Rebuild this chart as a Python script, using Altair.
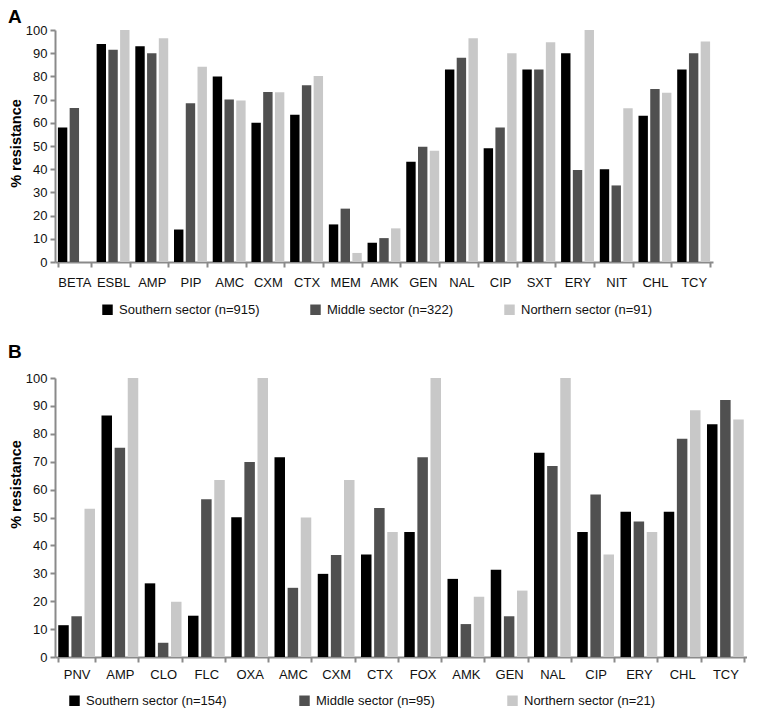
import altair as alt
import pandas as pd

FONT = "Liberation Sans"

# ---- Panel A data ----
cats_a = ["BETA", "ESBL", "AMP", "PIP", "AMC", "CXM", "CTX", "MEM", "AMK",
          "GEN", "NAL", "CIP", "SXT", "ERY", "NIT", "CHL", "TCY"]
south_a = [58, 94, 93, 14, 80, 60, 63.5, 16.2, 8.3, 43.2, 83, 49, 83, 90, 40, 63, 83]
middle_a = [66.4, 91.5, 90, 68.4, 70, 73.3, 76.2, 23, 10.3, 49.7, 88, 58, 83, 39.7, 33, 74.6, 90]
north_a = [None, 100, 96.4, 84.2, 69.6, 73.2, 80.2, 3.9, 14.5, 48, 96.4, 90, 94.7, 100, 66.3, 73, 95]
names_a = ["Southern sector (n=915)", "Middle sector (n=322)", "Northern sector (n=91)"]

# ---- Panel B data ----
cats_b = ["PNV", "AMP", "CLO", "FLC", "OXA", "AMC", "CXM", "CTX", "FOX", "AMK",
          "GEN", "NAL", "CIP", "ERY", "CHL", "TCY"]
south_b = [11.4, 86.6, 26.4, 14.8, 50.1, 71.6, 29.8, 36.7, 44.8, 28, 31.3, 73.2, 44.8, 52.1, 52.1, 83.4]
middle_b = [14.6, 75, 5.1, 56.5, 69.9, 24.8, 36.6, 53.4, 71.6, 11.8, 14.6, 68.5, 58.2, 48.6, 78.2, 92.1]
north_b = [53.1, 100, 19.8, 63.4, 100, 50, 63.4, 44.8, 100, 21.6, 23.8, 100, 36.7, 44.8, 88.4, 85.1]
names_b = ["Southern sector (n=154)", "Middle sector (n=95)", "Northern sector (n=21)"]

colors = ["#000000", "#505050", "#c8c8c8"]
yticks = list(range(0, 101, 10))


def to_long(cats, series, names):
    rows = []
    for name, vals in zip(names, series):
        for c, v in zip(cats, vals):
            if v is not None:
                rows.append({"drug": c, "sector": name, "value": v})
    return pd.DataFrame(rows)


def panel(df, cats, names, letter, w, h, lx, ly, colpad, xlabpad, toff, ty):
    return alt.Chart(df).mark_bar().encode(
        x=alt.X("drug:N", sort=cats, title=None,
                scale=alt.Scale(paddingInner=0.15, paddingOuter=0.075),
                axis=alt.Axis(labelAngle=0, tickBand="extent", tickSize=5,
                              labelPadding=xlabpad, domainColor="#8a8a8a",
                              domainWidth=2, tickColor="#8a8a8a", tickWidth=2,
                              labelFont=FONT, labelFontSize=13, labelColor="#111111")),
        xOffset=alt.XOffset("sector:N", sort=names,
                            scale=alt.Scale(domain=names, paddingInner=0.2)),
        y=alt.Y("value:Q", scale=alt.Scale(domain=[0, 100]), title="% resistance",
                axis=alt.Axis(values=yticks, grid=False, tickSize=5, labelPadding=3,
                              domainColor="#8a8a8a", domainWidth=2,
                              tickColor="#8a8a8a", tickWidth=2,
                              labelFont=FONT, labelFontSize=13, labelColor="#111111",
                              titleFont=FONT, titleFontSize=14.5, titleFontWeight="bold",
                              titleColor="#000000", titleAngle=270, titleAlign="center",
                              titleBaseline="bottom", titleX=-32, titleY=ty)),
        color=alt.Color("sector:N", sort=names,
                        scale=alt.Scale(domain=names, range=colors),
                        legend=alt.Legend(title=None, orient="none", legendX=lx, legendY=ly,
                                          direction="horizontal", symbolType="square",
                                          symbolSize=110, symbolStrokeWidth=0,
                                          labelFont=FONT, labelFontSize=13,
                                          labelColor="#111111", labelOffset=5,
                                          columnPadding=colpad, padding=0,
                                          labelLimit=300)),
    ).properties(
        width=w, height=h,
        title=alt.TitleParams(letter, anchor="start", frame="bounds", fontSize=19,
                              fontWeight="bold", font=FONT, color="#000000", offset=toff),
    )


df_a = to_long(cats_a, [south_a, middle_a, north_a], names_a)
df_b = to_long(cats_b, [south_b, middle_b, north_b], names_b)

pa = panel(df_a, cats_a, names_a, "A", 658, 232, 46, 273, 49, 9, -3, 113)
pb = panel(df_b, cats_b, names_b, "B", 692, 279, 13, 316, 71, 6, 10, 106)

chart = alt.vconcat(pa, pb, spacing=26).resolve_scale(
    x="independent", y="independent", color="independent", xOffset="independent"
).resolve_legend(color="independent").properties(
    padding={"left": 0, "top": 0, "right": 0, "bottom": 0}
).configure_view(stroke=None)

chart.save("out.html", embed_options={"renderer": "svg", "actions": False})
